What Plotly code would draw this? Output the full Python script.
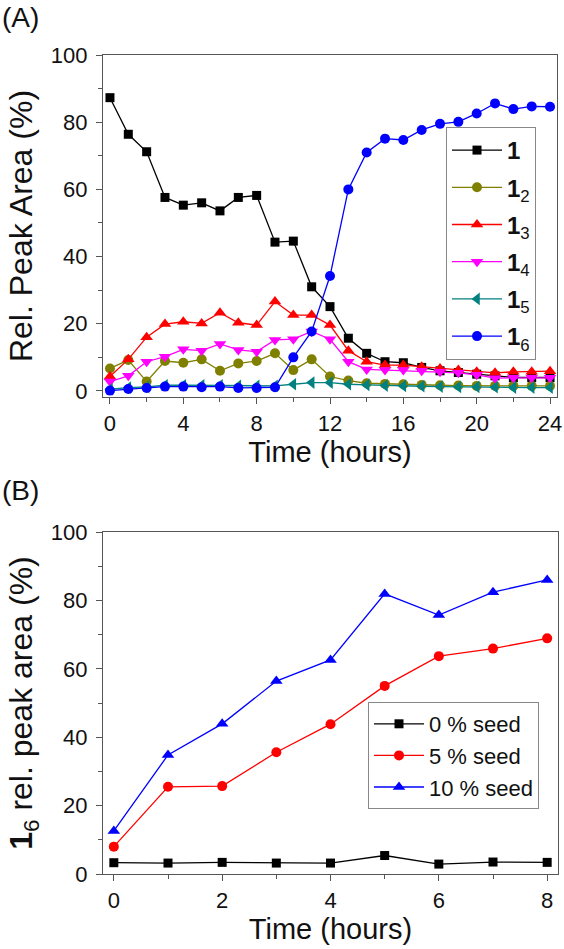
import plotly.graph_objects as go
from plotly.subplots import make_subplots

# ---------- Panel A data ----------
hours_a = list(range(25))
s1 = [87.3, 76.4, 71.2, 57.6, 55.3, 56.0, 53.6, 57.6, 58.2, 44.3, 44.6, 31.0, 25.1,
      15.7, 11.2, 8.7, 8.4, 7.0, 6.0, 5.5, 5.0, 4.5, 4.0, 4.0, 4.0]
s12 = [6.7, 9.2, 2.8, 8.9, 8.4, 9.4, 6.0, 8.2, 8.9, 11.2, 6.2, 9.4, 4.3,
       3.1, 2.3, 2.1, 2.0, 1.8, 1.7, 1.6, 1.5, 1.5, 1.5, 1.5, 1.5]
s13 = [4.3, 9.4, 16.0, 19.9, 20.6, 20.1, 23.3, 20.3, 19.6, 26.6, 22.6, 22.6, 19.6,
       12.0, 8.7, 7.7, 7.7, 7.2, 6.7, 6.2, 5.7, 5.4, 5.7, 5.7, 5.9]
s14 = [2.8, 4.5, 8.7, 10.2, 12.4, 12.0, 14.0, 12.2, 11.7, 15.2, 15.4, 17.7, 15.4,
       8.7, 6.4, 6.2, 6.2, 6.0, 5.7, 5.4, 4.8, 3.8, 3.9, 3.9, 3.9]
s15 = [0.5, 1.0, 1.2, 1.7, 1.7, 1.7, 1.7, 1.5, 1.5, 1.5, 2.0, 2.5, 2.5,
       2.0, 1.8, 1.6, 1.5, 1.4, 1.3, 1.2, 1.2, 1.1, 1.0, 1.0, 1.0]
s16 = [0.1, 0.6, 0.9, 1.3, 1.3, 1.1, 1.3, 0.9, 0.9, 1.1, 10.0, 17.7, 34.2,
       60.0, 71.0, 75.1, 74.7, 77.7, 79.5, 80.1, 82.6, 85.6, 83.9, 84.7, 84.6]

names_a = ["<b>1</b>", "<b>1</b><sub>2</sub>", "<b>1</b><sub>3</sub>",
           "<b>1</b><sub>4</sub>", "<b>1</b><sub>5</sub>", "<b>1</b><sub>6</sub>"]

# ---------- Panel B data ----------
hours_b = list(range(9))
seed0 = [3.3, 3.2, 3.4, 3.2, 3.2, 5.4, 2.9, 3.5, 3.4]
seed5 = [8.0, 25.5, 25.7, 35.6, 43.8, 55.0, 63.7, 65.9, 68.9]
seed10 = [12.6, 34.8, 43.9, 56.4, 62.6, 81.9, 75.7, 82.4, 86.0]
names_b = ["0 % seed", "5 % seed", "10 % seed"]

FONT = "Liberation Sans, Arial, sans-serif"

fig = make_subplots(rows=2, cols=1)

styles_a = [
    ("#000000", "square", 9),
    ("#808000", "circle", 10),
    ("#ff0000", "triangle-up", 11),
    ("#ff00ff", "triangle-down", 11),
    ("#008080", "triangle-left", 11),
    ("#0000ff", "circle", 10),
]
for i, (ys, nm, (col, sym, sz)) in enumerate(zip([s1, s12, s13, s14, s15, s16], names_a, styles_a)):
    fig.add_trace(go.Scatter(
        x=hours_a, y=ys, name=nm, mode="lines+markers",
        line=dict(color=col, width=1.3),
        marker=dict(color=col, symbol=sym, size=sz),
        legendgroup=f"a{i}", legend="legend"), row=1, col=1)

styles_b = [
    ("#000000", "square", 9),
    ("#ff0000", "circle", 10),
    ("#0000ff", "triangle-up", 11),
]
for ys, nm, (col, sym, sz) in zip([seed0, seed5, seed10], names_b, styles_b):
    fig.add_trace(go.Scatter(
        x=hours_b, y=ys, name=nm, mode="lines+markers",
        line=dict(color=col, width=1.3),
        marker=dict(color=col, symbol=sym, size=sz),
        legend="legend2"), row=2, col=1)

axis_common = dict(
    showline=True, mirror=True, linecolor="#555555", linewidth=1.3,
    ticks="outside", ticklen=6, tickwidth=1.2, tickcolor="#555555",
    showgrid=False, zeroline=False, automargin=False,
    tickfont=dict(family=FONT, size=22, color="#111111"),
)

W, H = 564, 949
ml, mr, mt, mb = 103, 6, 55, 75
ph = H - mt - mb

def ypaper(px):
    return (H - mb - px) / ph

def xpaper(px):
    return (px - ml) / (W - ml - mr)

fig.update_xaxes(**axis_common, title_font=dict(family=FONT, size=29, color="#111111"))
fig.update_yaxes(**axis_common, ticklabelstandoff=4,
                 title_font=dict(family=FONT, size=32, color="#111111"))

minor_style = dict(ticks="outside", ticklen=4, tickcolor="#555555", tickwidth=1.2)

fig.update_layout(
    xaxis=dict(domain=[0, xpaper(557)], range=[-0.38, 24.38], dtick=4, tick0=0,
               minor=dict(dtick=2, **minor_style),
               title=dict(text="Time (hours)", standoff=4)),
    yaxis=dict(domain=[ypaper(397), 1], range=[-1.8, 100], dtick=20, tick0=0,
               minor=dict(dtick=10, **minor_style),
               title=dict(text="Rel. Peak Area (%)", standoff=8)),
    xaxis2=dict(domain=[0, 1], range=[-0.2, 8.2], dtick=2, tick0=0,
                minor=dict(dtick=1, **minor_style),
                title=dict(text="Time (hours)", standoff=4)),
    yaxis2=dict(domain=[0, ypaper(532)], range=[0, 100], dtick=20, tick0=0,
                minor=dict(dtick=10, **minor_style),
                title=dict(text="<b>1</b><sub>6</sub> rel. peak area (%)", standoff=8)),
    width=W, height=H,
    margin=dict(l=ml, r=mr, t=mt, b=mb, autoexpand=False),
    paper_bgcolor="white", plot_bgcolor="white",
    font=dict(family=FONT, color="#111111"),
    legend=dict(x=xpaper(446), y=ypaper(127), xanchor="left", yanchor="top",
                bgcolor="white", bordercolor="#888888", borderwidth=1,
                font=dict(family=FONT, size=24, color="#111111"),
                itemwidth=50, tracegroupgap=3),
    legend2=dict(x=xpaper(368), y=ypaper(702), xanchor="left", yanchor="top",
                 bgcolor="white", bordercolor="#888888", borderwidth=1,
                 font=dict(family=FONT, size=22, color="#111111"),
                 itemwidth=50, tracegroupgap=0),
    showlegend=True,
)

fig.add_annotation(text="(A)", xref="paper", yref="paper",
                   x=xpaper(0), y=ypaper(18), xanchor="left", yanchor="middle",
                   showarrow=False, font=dict(family=FONT, size=28, color="#111111"))
fig.add_annotation(text="(B)", xref="paper", yref="paper",
                   x=xpaper(0), y=ypaper(490), xanchor="left", yanchor="middle",
                   showarrow=False, font=dict(family=FONT, size=28, color="#111111"))

fig.write_html("out.html",
               config={"displayModeBar": False},
               post_script="document.body.style.margin='0px';document.body.style.overflow='hidden';")
